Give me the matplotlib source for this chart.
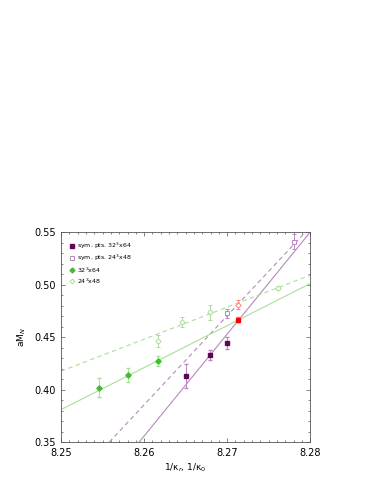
import matplotlib
matplotlib.use('Agg')
import matplotlib.pyplot as plt
from matplotlib.lines import Line2D
from matplotlib.ticker import MultipleLocator

# symmetric points, 32^3x64 and 24^3x48
sym32_x = [8.2651, 8.2679, 8.2700]
sym32_y = [0.4129, 0.4329, 0.4446]
sym32_e = [0.0114, 0.0048, 0.0055]
sym24_x = [8.2700, 8.2781]
sym24_y = [0.4726, 0.5408]
sym24_e = [0.0040, 0.0070]

# partially quenched points
pq32_x = [8.2546, 8.2580, 8.2617]
pq32_y = [0.4017, 0.4138, 0.4269]
pq32_e = [0.0090, 0.0064, 0.0048]
pq24_x = [8.2617, 8.2645, 8.2679, 8.2761]
pq24_y = [0.4462, 0.4643, 0.4735, 0.4970]
pq24_e = [0.0060, 0.0045, 0.0070, 0.0020]

# crossing points
cross32 = (8.2713, 0.4668, 0.0020)
cross24 = (8.2713, 0.4811, 0.0040)

# fit lines (end points)
fit_sym32 = ([8.2594, 8.2800], [0.350, 0.550])
fit_sym24 = ([8.2558, 8.2794], [0.350, 0.550])
fit_pq32 = ([8.2500, 8.2800], [0.381, 0.501])
fit_pq24 = ([8.2500, 8.2800], [0.4176, 0.509])

labels = ['sym. pts. 32$^3$x64', 'sym. pts. 24$^3$x48', '32$^3$x64', '24$^3$x48']

purple = '#5c0a50'
lpurple = '#b888c0'
green = '#44bb33'
lgreen = '#a8e098'

fig = plt.figure(figsize=(3.82, 4.94), dpi=100)
ax = fig.add_axes([0.160, 0.105, 0.652, 0.425])

ax.plot(*fit_sym32, color=lpurple, lw=0.8)
ax.plot(*fit_sym24, color=lpurple, lw=0.8, dashes=(4, 3))
ax.plot(*fit_pq32, color=lgreen, lw=0.8)
ax.plot(*fit_pq24, color=lgreen, lw=0.8, dashes=(4, 3))

ms = 2.7
ax.errorbar(sym32_x, sym32_y, yerr=sym32_e, fmt='s', ms=ms, color=purple,
            ecolor=lpurple, elinewidth=0.7, capsize=1.5)
ax.errorbar(sym24_x, sym24_y, yerr=sym24_e, fmt='s', ms=ms, mfc='white', mec=lpurple,
            ecolor=lpurple, elinewidth=0.7, capsize=1.5, mew=0.7)
ax.errorbar(pq32_x, pq32_y, yerr=pq32_e, fmt='D', ms=ms, color=green,
            ecolor=lgreen, elinewidth=0.7, capsize=1.5)
ax.errorbar(pq24_x, pq24_y, yerr=pq24_e, fmt='D', ms=ms, mfc='white', mec=lgreen,
            ecolor=lgreen, elinewidth=0.7, capsize=1.5, mew=0.7)

ax.errorbar([cross32[0]], [cross32[1]], yerr=[cross32[2]], fmt='s', ms=ms,
            color='#ff0000', ecolor='#ff8080', elinewidth=0.7, capsize=1.5)
ax.errorbar([cross24[0]], [cross24[1]], yerr=[cross24[2]], fmt='D', ms=ms, mfc='white',
            mec='#ff8080', ecolor='#ff8080', elinewidth=0.7, capsize=1.5, mew=0.7)

ax.set_xlim(8.25, 8.28)
ax.set_ylim(0.35, 0.55)
ax.set_xticks([8.25, 8.26, 8.27, 8.28])
ax.set_xticklabels(['8.25', '8.26', '8.27', '8.28'], fontsize=7)
ax.set_yticks([0.35, 0.40, 0.45, 0.50, 0.55])
ax.set_yticklabels(['0.35', '0.40', '0.45', '0.50', '0.55'], fontsize=7)
ax.xaxis.set_minor_locator(MultipleLocator(0.001))
ax.yaxis.set_minor_locator(MultipleLocator(0.01))
ax.tick_params(which='both', direction='in', top=True, right=True, width=0.5, color='#555555')
ax.tick_params(which='major', length=3, pad=4)
ax.tick_params(which='minor', length=1.5)
for s in ax.spines.values():
    s.set_linewidth(0.6)
    s.set_color('#555555')

ax.set_xlabel('1/κ$_r$, 1/κ$_0$', fontsize=6.5, labelpad=3)
ax.set_ylabel('aM$_N$', fontsize=6.5)

handles = [
    Line2D([], [], ls='none', marker='s', ms=2.5, color=purple),
    Line2D([], [], ls='none', marker='s', ms=2.5, mfc='white', mec=lpurple, mew=0.7),
    Line2D([], [], ls='none', marker='D', ms=2.5, color=green),
    Line2D([], [], ls='none', marker='D', ms=2.5, mfc='white', mec=lgreen, mew=0.7),
]
ax.legend(handles, labels, loc='upper left', fontsize=4.5, frameon=False, handlelength=0.8,
          handletextpad=0.3, labelspacing=0.3, borderaxespad=1.0)

fig.savefig('out.png', dpi=100)
